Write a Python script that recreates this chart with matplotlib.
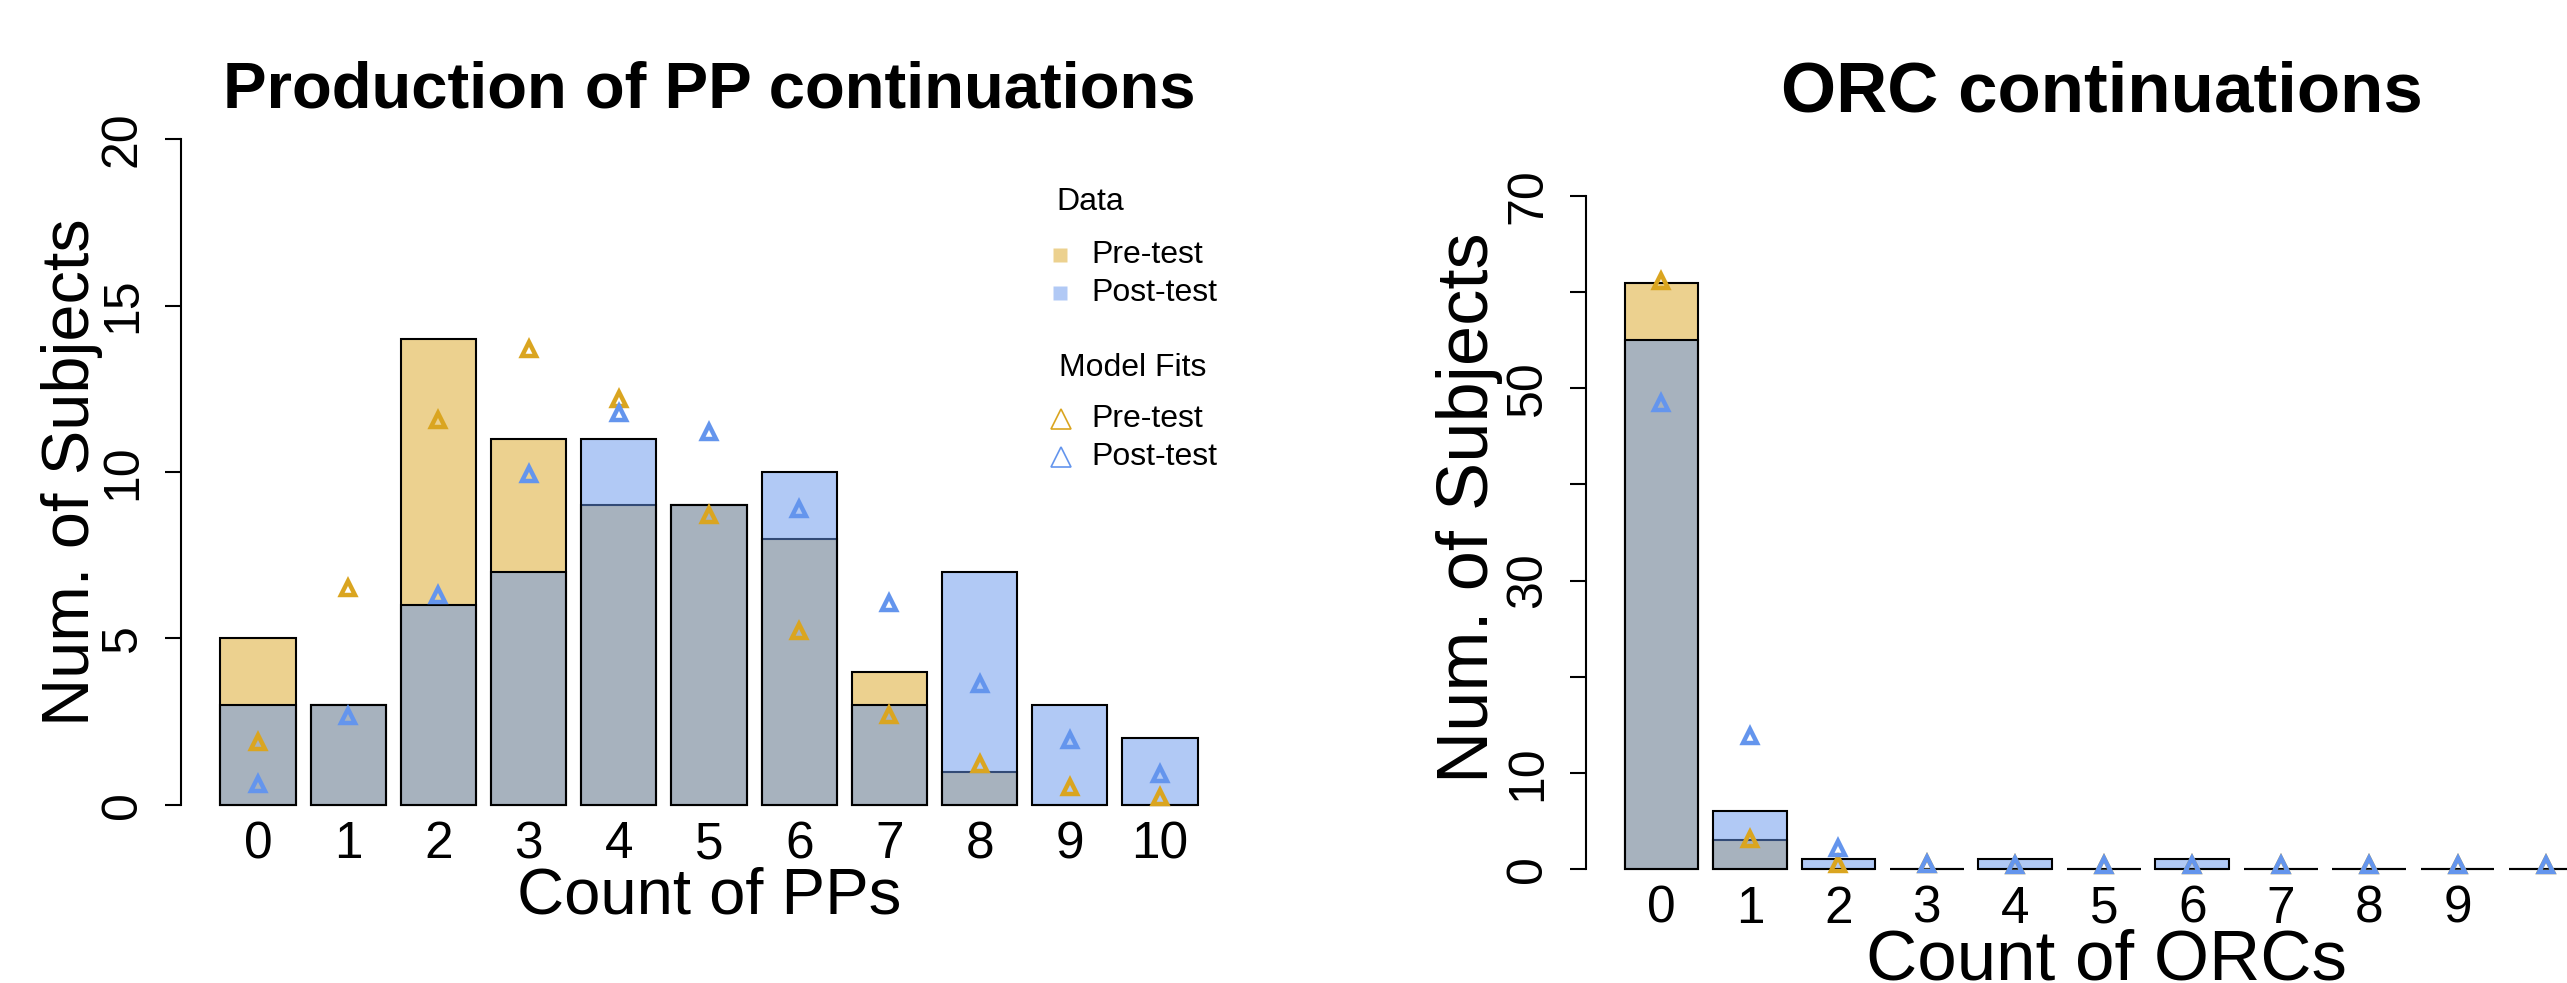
import matplotlib
matplotlib.use('Agg')
import matplotlib.pyplot as plt
import numpy as np
from matplotlib.colors import to_rgba
from matplotlib.lines import Line2D

plt.rcParams['font.family'] = ['Liberation Sans', 'DejaVu Sans']

# --- data -------------------------------------------------------------
counts = list(range(11))

# PP continuations: observed subjects per count
ppPre = [5, 3, 14, 11, 9, 9, 8, 4, 1, 0, 0]
ppPost = [3, 3, 6, 7, 11, 9, 10, 3, 7, 3, 2]
# model fits
ppFitPre = [1.88, 6.53, 11.57, 13.7, 12.2, 8.71, 5.21, 2.69, 1.22, 0.53, 0.23]
ppFitPost = [0.62, 2.67, 6.3, 9.93, 11.76, 11.19, 8.9, 6.08, 3.63, 1.94, 0.94]

# ORC continuations
orcPre = [61, 3, 0, 0, 0, 0, 0, 0, 0, 0, 0]
orcPost = [55, 6, 1, 0, 1, 0, 1, 0, 0, 0, 0]
orcFitPre = [61.2, 3.1, 0.5, 0.5, 0.45, 0.45, 0.4, 0.45, 0.45, 0.45, 0.45]
orcFitPost = [48.5, 13.8, 2.15, 0.5, 0.45, 0.45, 0.4, 0.45, 0.45, 0.45, 0.45]

ppTicks = [0, 5, 10, 15, 20]
ppTickLabels = ['0', '5', '10', '15', '20']
orcTicks = [0, 10, 20, 30, 40, 50, 60, 70]
orcTickLabels = ['0', '10', '', '30', '', '50', '', '70']
ppXLabels = [str(c) for c in counts]
orcXLabels = [str(c) for c in counts[:10]] + ['']

W, H = 2567, 983
preFill = to_rgba('goldenrod', 0.5)
postFill = to_rgba('cornflowerblue', 0.5)
preLine = 'goldenrod'
postLine = 'cornflowerblue'


def box(left, top, right, bottom):
  return [left / W, 1 - bottom / H, (right - left) / W, (bottom - top) / H]


def px(x, y):
  return (x / W, 1 - y / H)


def drawPanel(ax, pre, post, fitPre, fitPost, ymax, yticks, ylabels, xlabels):
  w = 1 / 1.2
  ax.bar(counts, pre, width=w, color=preFill, edgecolor='black', linewidth=1.5, zorder=1)
  ax.bar(counts, post, width=w, color=postFill, edgecolor='black', linewidth=1.5, zorder=2)
  ax.plot(counts, fitPre, ls='none', marker='^', ms=10, mfc='none', mec=preLine, mew=3.2, zorder=3)
  ax.plot(counts, fitPost, ls='none', marker='^', ms=10, mfc='none', mec=postLine, mew=3.2, zorder=4)

  ax.set_xlim(-0.85, 10.85)
  ax.set_ylim(-0.04 * ymax, 1.04 * ymax)
  for side in ['top', 'right', 'bottom']:
    ax.spines[side].set_visible(False)
  ax.spines['left'].set_bounds(0, ymax)
  ax.spines['left'].set_linewidth(1.5)
  ax.patch.set_visible(False)

  ax.set_yticks(yticks)
  ax.set_yticklabels(ylabels, rotation=90, va='center')
  ax.set_xticks(counts)
  ax.set_xticklabels(xlabels)
  ax.tick_params(axis='y', length=11.5, width=1.5, pad=14, labelsize=36)
  ax.tick_params(axis='x', length=0, pad=-8.2, labelsize=37)


fig = plt.figure(figsize=(W / 100, H / 100), dpi=100)

axL = fig.add_axes(box(181.3, 112.4, 1236.7, 831.6))
drawPanel(axL, ppPre, ppPost, ppFitPre, ppFitPost, 20, ppTicks, ppTickLabels, ppXLabels)

axR = fig.add_axes(box(1586.3, 169.1, 2621.2, 895.9))
drawPanel(axR, orcPre, orcPost, orcFitPre, orcFitPost, 70, orcTicks, orcTickLabels, orcXLabels)
axR.tick_params(axis='x', pad=-7.9)

# titles and axis labels
fig.text(*px(709, 107), 'Production of PP continuations', ha='center', va='baseline',
         fontsize=47, fontweight='bold')
fig.text(*px(2102, 112), 'ORC continuations', ha='center', va='baseline',
         fontsize=51, fontweight='bold')
fig.text(*px(709, 913), 'Count of PPs', ha='center', va='baseline', fontsize=47)
fig.text(*px(2106, 980), 'Count of ORCs', ha='center', va='baseline', fontsize=51)
fig.text(*px(89, 472), 'Num. of Subjects', rotation=90, rotation_mode='anchor',
         ha='center', va='baseline', fontsize=48)
fig.text(*px(1488, 508), 'Num. of Subjects', rotation=90, rotation_mode='anchor',
         ha='center', va='baseline', fontsize=52)

# legend (left panel)
legendSize = 23
fig.text(*px(1056, 202), 'Data', ha='left', va='center', fontsize=legendSize)
for y, fill, label in [(255, preFill, 'Pre-test'), (293, postFill, 'Post-test')]:
  fig.add_artist(Line2D([px(1060, y)[0]], [px(1060, y)[1]], transform=fig.transFigure,
                        marker='s', ms=10.5, mfc=fill, mec='none', ls='none'))
  fig.text(*px(1091, y), label, ha='left', va='center', fontsize=legendSize)
fig.text(*px(1059, 368), 'Model Fits', ha='left', va='center', fontsize=legendSize)
for y, col, label in [(419, preLine, 'Pre-test'), (457, postLine, 'Post-test')]:
  fig.add_artist(Line2D([px(1061, y)[0]], [px(1061, y)[1]], transform=fig.transFigure,
                        marker='^', ms=15, mfc='none', mec=col, mew=1.2, ls='none'))
  fig.text(*px(1091, y), label, ha='left', va='center', fontsize=legendSize)

plt.savefig('out.png', dpi=100)
